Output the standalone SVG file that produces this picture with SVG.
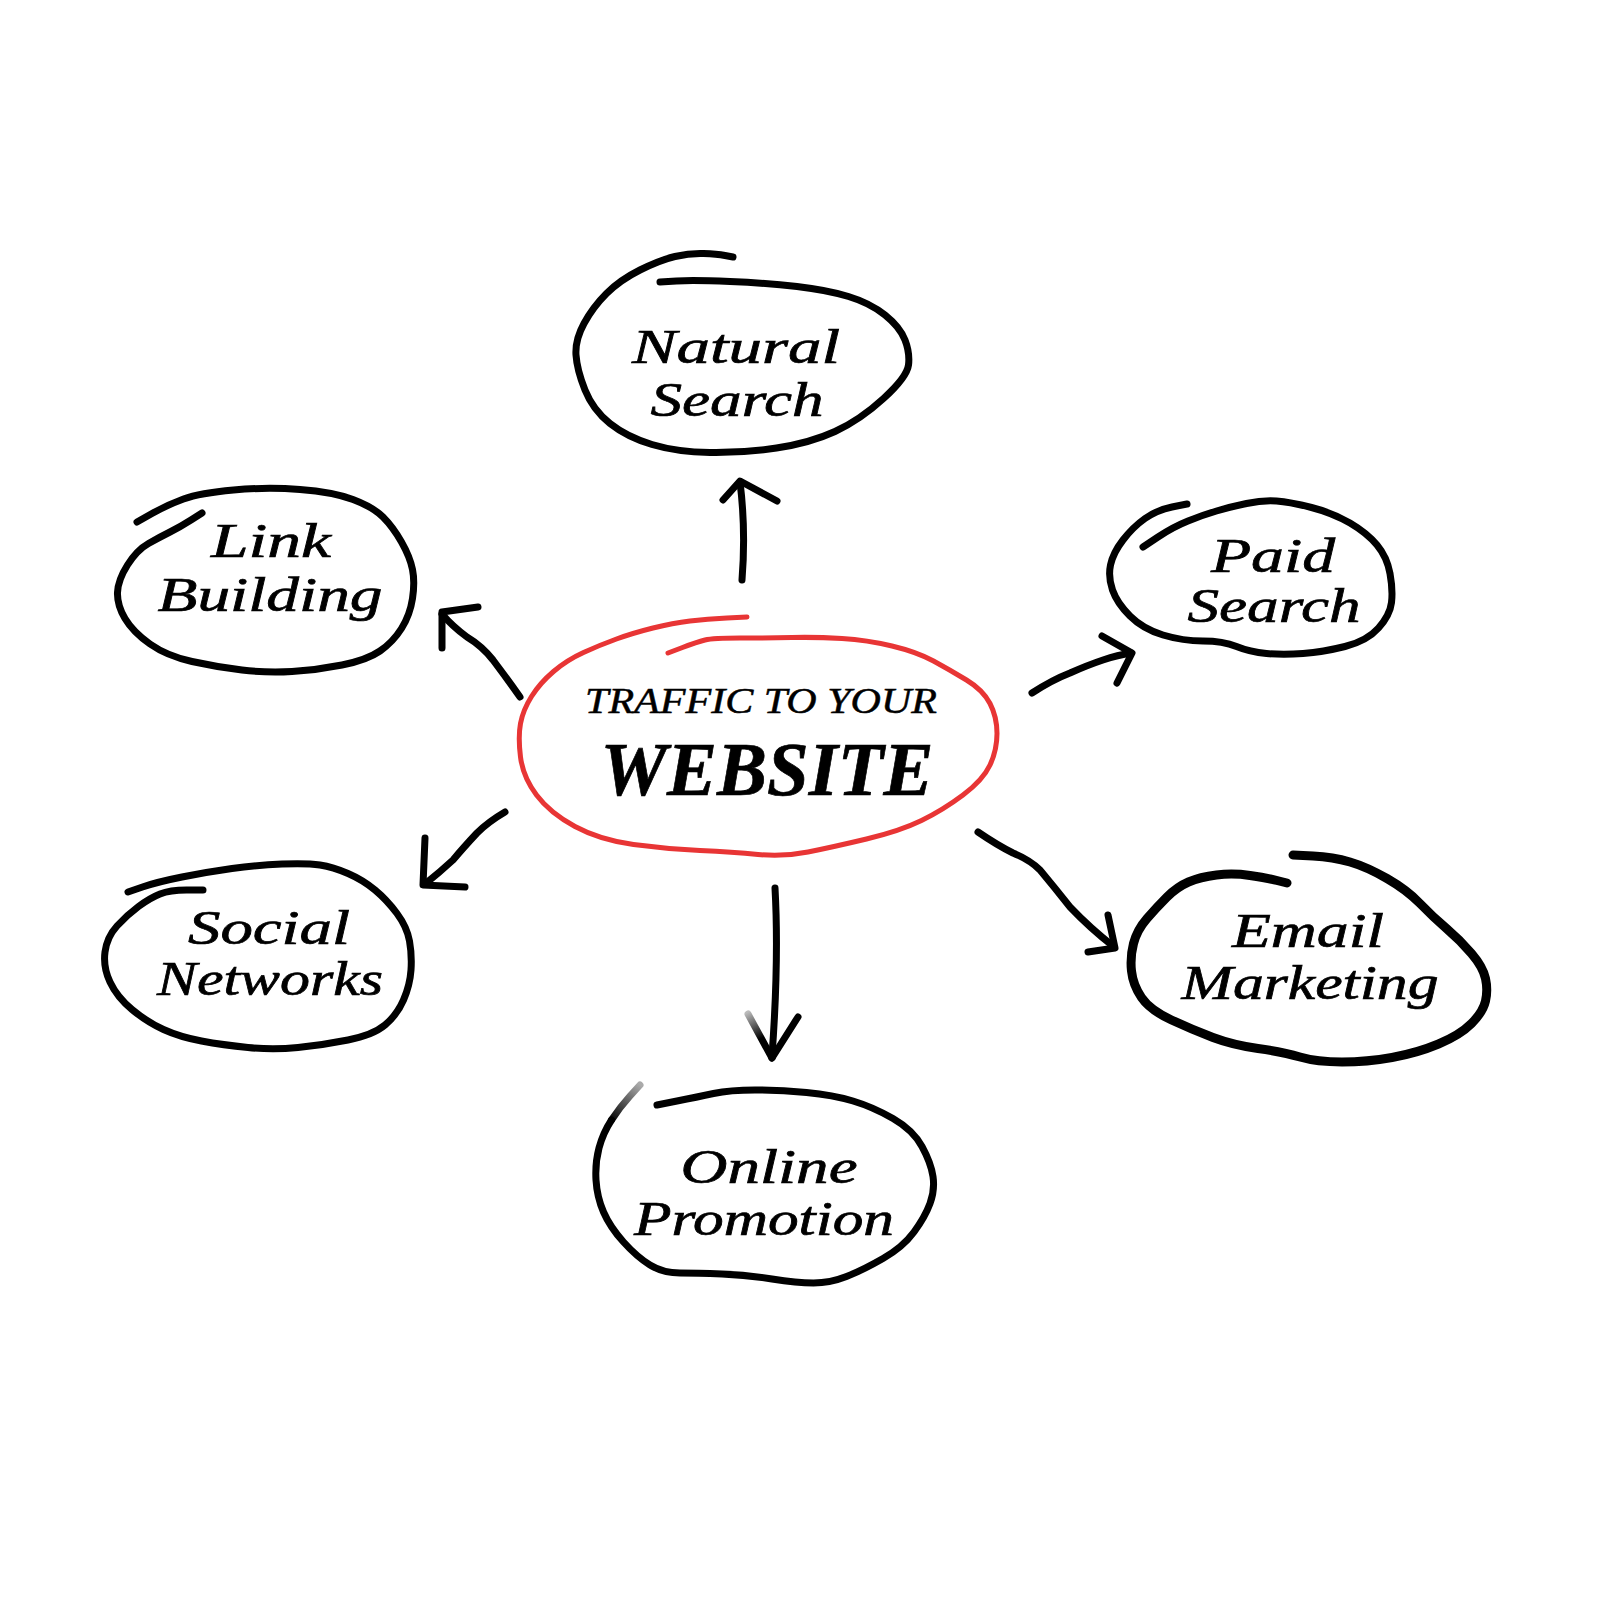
<svg xmlns="http://www.w3.org/2000/svg" width="1600" height="1600" viewBox="0 0 1600 1600">
<style>
.bg{fill:#ffffff}
.loop{fill:none;stroke:#000;stroke-width:7;stroke-linecap:round;stroke-linejoin:round}
.thick{stroke-width:9}
.red{fill:none;stroke:#e83535;stroke-width:5;stroke-linecap:round;stroke-linejoin:round}
.arrow{fill:none;stroke:#000;stroke-width:7;stroke-linecap:round;stroke-linejoin:round}
.lbl{font-family:"Liberation Serif","DejaVu Serif",serif;font-style:italic;font-size:48px;fill:#000;stroke:#000;stroke-width:0.7;text-anchor:middle}
.small{font-size:36px;stroke-width:0.5}
.big{font-size:76px;font-weight:bold}
</style>
<defs>
<linearGradient id="fadeA" gradientUnits="userSpaceOnUse" x1="640" y1="1085" x2="612" y2="1122">
<stop offset="0" stop-color="#aaaaaa"/><stop offset="1" stop-color="#000000"/>
</linearGradient>
<linearGradient id="fadeB" gradientUnits="userSpaceOnUse" x1="748" y1="1012" x2="762" y2="1038">
<stop offset="0" stop-color="#bbbbbb"/><stop offset="1" stop-color="#000000"/>
</linearGradient>
</defs>
<rect class="bg" x="0" y="0" width="1600" height="1600"/>

<g id="center">
<path class="red" d="M747,617 L727,618 Q707,619 690,621 Q673,623 653,628 Q633,633 616.5,639 Q600,645 583.5,652.5 Q567,660 553.5,671.5 Q540,683 531.5,696.5 Q523,710 520.5,723.5 Q518,737 520.5,757 Q523,777 536.5,795 Q550,813 575,826.5 Q600,840 633.5,844.5 Q667,849 700,850.5 Q733,852 758,854.5 Q783,857 808,852 Q833,847 866.5,839 Q900,831 921.5,820.5 Q943,810 963,795 Q983,780 990,765 Q997,750 997,733.5 Q997,717 990,703.5 Q983,690 966.5,680 Q950,670 933.5,661 Q917,652 892,646 Q867,640 842,638.5 Q817,637 792,637.5 Q767,638 740,638 Q713,638 705,640 Q697,642 682.5,647.5 L668,653"/>
<text class="lbl small" x="761" y="713" textLength="352" lengthAdjust="spacingAndGlyphs">TRAFFIC TO YOUR</text>
<text class="lbl big" x="767" y="795" textLength="333" lengthAdjust="spacingAndGlyphs">WEBSITE</text>
</g>

<g id="natural-search">
<path class="loop" d="M733,257 L725,255.5 Q717,254 703.5,253.5 Q690,253 675,256.5 Q660,260 640,270 Q620,280 606.5,293.5 Q593,307 584,323.5 Q575,340 576,355 Q577,370 585,390 Q593,410 610,423.5 Q627,437 652,444.5 Q677,452 710,452.5 Q743,453 776.5,448 Q810,443 835,431.5 Q860,420 883.5,398.5 Q907,377 908.5,365 Q910,353 905,340 Q900,327 885,315 Q870,303 848.5,296.5 Q827,290 797,286.5 Q767,283 730,281.5 Q693,280 676.5,281 L660,282"/>
<text class="lbl" x="736" y="363" textLength="208" lengthAdjust="spacingAndGlyphs">Natural</text>
<text class="lbl" x="737" y="416" textLength="173" lengthAdjust="spacingAndGlyphs">Search</text>
</g>

<g id="link-building">
<path class="loop" d="M137,522 L152,513.5 Q167,505 183.5,499 Q200,493 233.5,490 Q267,487 300,489.5 Q333,492 353,499.5 Q373,507 383,517 Q393,527 401.5,542 Q410,557 412.5,569.5 Q415,582 412.5,598.5 Q410,615 401.5,628.5 Q393,642 380,651 Q367,660 342,665 Q317,670 292,671.5 Q267,673 242,670 Q217,667 192,661.5 Q167,656 150,644 Q133,632 125,618.5 Q117,605 117.5,592.5 Q118,580 127.5,565 Q137,550 148.5,543.5 Q160,537 170,532 Q180,527 191,520 L202,513"/>
<text class="lbl" x="271" y="557" textLength="120" lengthAdjust="spacingAndGlyphs">Link</text>
<text class="lbl" x="270" y="611" textLength="225" lengthAdjust="spacingAndGlyphs">Building</text>
</g>

<g id="paid-search">
<path class="loop" d="M1187,504 L1172,507 Q1157,510 1145,518.5 Q1133,527 1123,540 Q1113,553 1110.5,565 Q1108,577 1112.5,590 Q1117,603 1130,616 Q1143,629 1163,635 Q1183,641 1203,641 Q1223,641 1236.5,646.5 Q1250,652 1266.5,653.5 Q1283,655 1303,653.5 Q1323,652 1345,646.5 Q1367,641 1378.5,628 Q1390,615 1391.5,602.5 Q1393,590 1390,573.5 Q1387,557 1377,545 Q1367,533 1350,523 Q1333,513 1311.5,507.5 Q1290,502 1276.5,501 Q1263,500 1246.5,503.5 Q1230,507 1216.5,511 Q1203,515 1188,521 Q1173,527 1158,537 L1143,547"/>
<text class="lbl" x="1273" y="572" textLength="124" lengthAdjust="spacingAndGlyphs">Paid</text>
<text class="lbl" x="1274" y="622" textLength="173" lengthAdjust="spacingAndGlyphs">Search</text>
</g>

<g id="social-networks">
<path class="loop" d="M128,892 L142.5,887 Q157,882 182,877 Q207,872 232,868.5 Q257,865 282,864 Q307,863 320,865 Q333,867 348,873.5 Q363,880 375,890 Q387,900 397,913.5 Q407,927 409.5,941 Q412,955 411,970 Q410,985 403.5,1000 Q397,1015 385,1025 Q373,1035 348,1040 Q323,1045 298,1047.5 Q273,1050 248,1047.5 Q223,1045 201.5,1041 Q180,1037 163.5,1029.5 Q147,1022 132,1009.5 Q117,997 110,982 Q103,967 105,952 Q107,937 117,926 Q127,915 138.5,906.5 Q150,898 160,894 Q170,890 186.5,890 L203,890"/>
<text class="lbl" x="269" y="944" textLength="162" lengthAdjust="spacingAndGlyphs">Social</text>
<text class="lbl" x="270" y="995" textLength="226" lengthAdjust="spacingAndGlyphs">Networks</text>
</g>

<g id="email-marketing">
<path class="loop thick" d="M1287,883 L1277,880.5 Q1267,878 1250,875.5 Q1233,873 1216.5,875 Q1200,877 1188.5,882 Q1177,887 1167,897 Q1157,907 1147,918.5 Q1137,930 1133.5,943.5 Q1130,957 1131.5,971 Q1133,985 1141.5,997.5 Q1150,1010 1171.5,1020 Q1193,1030 1213,1037.5 Q1233,1045 1258,1048.5 Q1283,1052 1300,1057 Q1317,1062 1342,1062 Q1367,1062 1392,1057.5 Q1417,1053 1438.5,1044 Q1460,1035 1471.5,1023.5 Q1483,1012 1485.5,1001 Q1488,990 1485.5,978.5 Q1483,967 1471.5,953.5 Q1460,940 1446.5,928.5 Q1433,917 1420,903.5 Q1407,890 1387,878.5 Q1367,867 1350,862 Q1333,857 1313,856 L1293,855"/>
<text class="lbl" x="1308" y="947" textLength="152" lengthAdjust="spacingAndGlyphs">Email</text>
<text class="lbl" x="1310" y="999" textLength="257" lengthAdjust="spacingAndGlyphs">Marketing</text>
</g>

<g id="online-promotion">
<path class="loop" style="stroke:url(#fadeA)" d="M640,1085 L630,1096 Q620,1107 611.5,1120"/>
<path class="loop" d="M611.5,1120 Q603,1133 599,1148 Q595,1163 596,1180 Q597,1197 603.5,1212 Q610,1227 623.5,1242 Q637,1257 650,1265 Q663,1273 680,1273 Q697,1273 722,1274 Q747,1275 772,1279 Q797,1283 813.5,1283 Q830,1283 846.5,1276.5 Q863,1270 883,1258.5 Q903,1247 914,1232 Q925,1217 930,1203.5 Q935,1190 933,1176.5 Q931,1163 922,1146.5 Q913,1130 893,1118.5 Q873,1107 853,1101 Q833,1095 806.5,1092.5 Q780,1090 755,1090 Q730,1090 713.5,1093.5 Q697,1097 677,1101 L657,1105"/>
<text class="lbl" x="769" y="1183" textLength="177" lengthAdjust="spacingAndGlyphs">Online</text>
<text class="lbl" x="764" y="1235" textLength="260" lengthAdjust="spacingAndGlyphs">Promotion</text>
</g>

<g id="connectors">
<path class="arrow" d="M742,580 Q746,530 740,482"/>
<path class="arrow" d="M723,500 L740,481 L777,501"/>
<path class="arrow" d="M520,697 Q508,680 493,660 Q482,646 467,637 Q452,626 442,614"/>
<path class="arrow" d="M442,648 L442,612 L478,607"/>
<path class="arrow" d="M505,812 Q488,822 477,833 Q463,848 453,860 Q440,872 425,884"/>
<path class="arrow" d="M425,838 L423,885 L465,887"/>
<path class="arrow" d="M775,888 Q779,960 772,1056"/>
<path class="arrow" style="stroke:url(#fadeB)" d="M748,1014 L772,1058"/>
<path class="arrow" d="M772,1058 L798,1017"/>
<path class="arrow" d="M1032,693 Q1052,680 1070,673 Q1088,665 1103,660 Q1118,655 1131,653"/>
<path class="arrow" d="M1102,636 L1132,653 L1117,683"/>
<path class="arrow" d="M978,832 Q997,845 1013,853 Q1030,860 1040,870 Q1055,888 1070,907 Q1090,928 1113,946"/>
<path class="arrow" d="M1108,915 L1115,948 L1088,952"/>
</g>
</svg>
